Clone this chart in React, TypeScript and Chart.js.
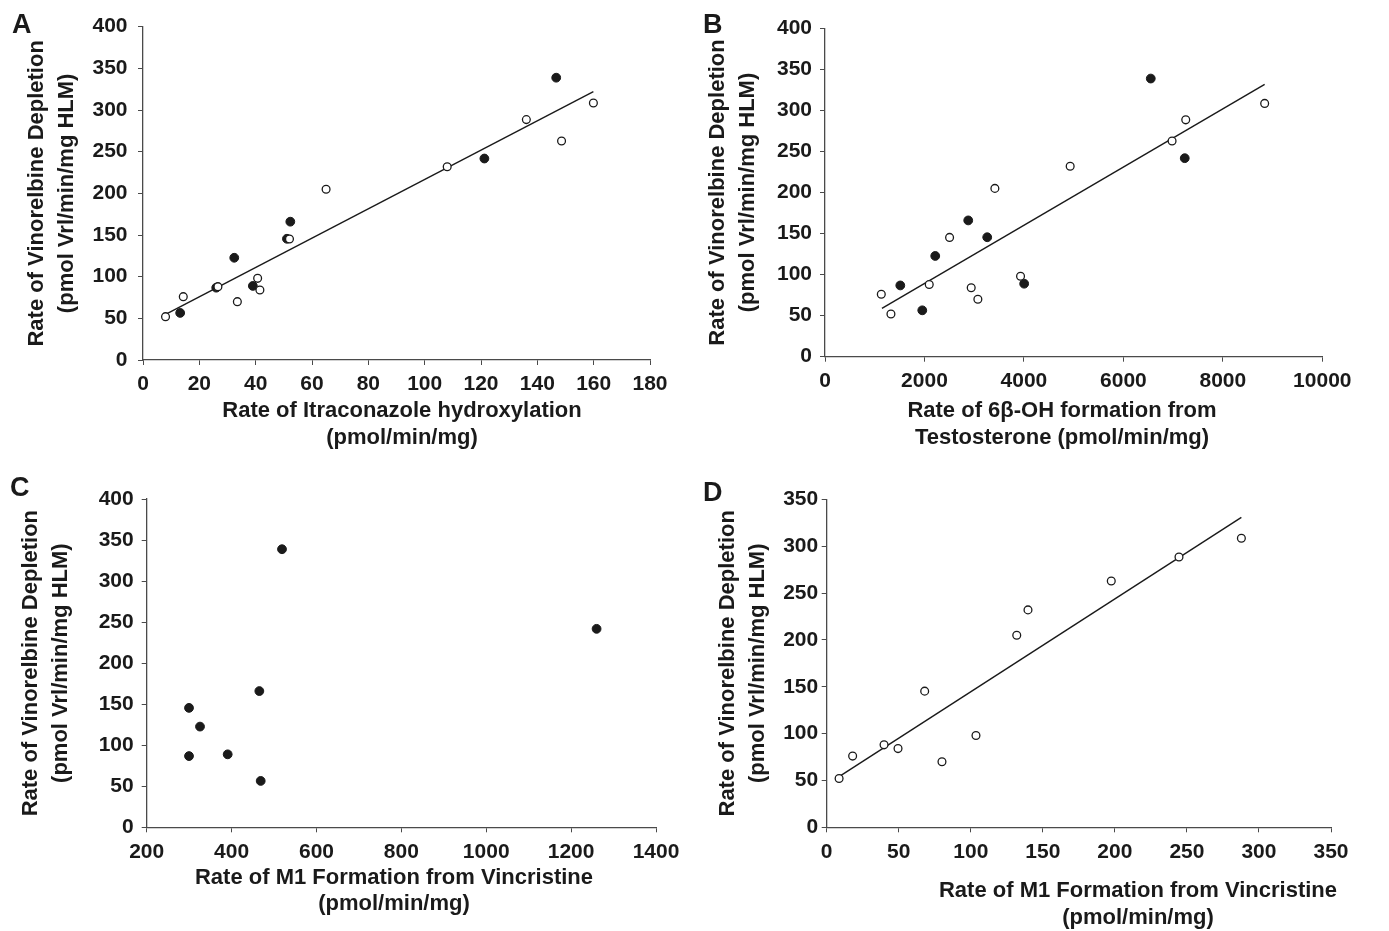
import React, { useEffect, useRef } from "react";
import { Chart, registerables } from "chart.js";

Chart.register(...registerables);

const FONT = "'Liberation Sans', Arial, Helvetica, sans-serif";
const INK = "#1a1a1a";
const AXIS = "#4a4a4a";

// Rate of vinorelbine depletion (pmol/min/mg HLM) for the 12 open-circle and 8 filled-circle samples
const openDepletion = [52, 76, 88, 70, 98, 84, 145.3, 205, 232, 262.8, 288.5, 308.5];
const filledDepletion = [56.5, 86.8, 122.7, 88.9, 145.5, 166, 241.8, 338.8];

// Panel A: itraconazole hydroxylation (same sample order as above)
const itraOpen = [8.0, 14.3, 26.6, 33.5, 40.7, 41.5, 52.0, 65.0, 108.0, 148.6, 136.1, 159.9];
const itraFilled = [13.2, 26.0, 32.4, 39.0, 51.1, 52.3, 121.2, 146.7];
const itraFitX = [8.7, 159.9];
const itraFitY = [56, 322];

// Panel B: 6beta-OH testosterone formation
const testoOpen = [1326, 1132, 2096, 3074, 3932, 2940, 2505, 3416, 4930, 6979, 7254, 8841];
const testoFilled = [1956, 1514, 2217, 4005, 3262, 2880, 7234, 6551];
const testoFitX = [1145, 8841];
const testoFitY = [58.9, 331.7];

// Panel C: M1 formation from vincristine (filled samples)
const vcrFilled = [468.6, 299.7, 325.6, 390.8, 299.7, 465.4, 1260, 518.8];

// Panel D: M1 formation from vincristine (open samples)
const vcrOpen = [8.6, 18.0, 39.8, 80.0, 103.6, 49.5, 68.0, 131.9, 139.7, 197.5, 244.5, 287.8];
const vcrFitX = [8.6, 287.8];
const vcrFitY = [54.1, 330.8];

// Axis ranges [min, max, step]
const itraXRange = [0, 180, 20];
const testoXRange = [0, 10000, 2000];
const vcrCXRange = [200, 1400, 200];
const vcrDXRange = [0, 350, 50];
const depletionRange400 = [0, 400, 50];
const depletionRange350 = [0, 350, 50];

const yTitleLines = ["Rate of Vinorelbine Depletion", "(pmol Vrl/min/mg HLM)"];
const titleA = ["Rate of Itraconazole hydroxylation", "(pmol/min/mg)"];
const titleB = ["Rate of 6β-OH formation from", "Testosterone (pmol/min/mg)"];
const titleCD = ["Rate of M1 Formation from Vincristine", "(pmol/min/mg)"];

const pairs = (xs: number[], ys: number[]) => xs.map((x, i) => ({ x, y: ys[i] }));

const openSet = (xs: number[]) => ({
  data: pairs(xs, openDepletion),
  showLine: false,
  pointRadius: 3.9,
  pointBorderWidth: 1.3,
  pointBackgroundColor: "#ffffff",
  pointBorderColor: INK,
});
const filledSet = (xs: number[]) => ({
  data: pairs(xs, filledDepletion),
  showLine: false,
  pointRadius: 4.4,
  pointBorderWidth: 1,
  pointBackgroundColor: INK,
  pointBorderColor: INK,
});
const fitSet = (xs: number[], ys: number[]) => ({
  data: pairs(xs, ys),
  showLine: true,
  pointRadius: 0,
  borderColor: INK,
  borderWidth: 1.4,
  fill: false,
});

const xTitlePlugin = {
  id: "xTitle",
  afterDraw(chart: any, _args: any, opts: any) {
    const ctx = chart.ctx;
    ctx.save();
    ctx.font = `bold ${opts.size}px ${FONT}`;
    ctx.fillStyle = INK;
    ctx.textAlign = "center";
    ctx.textBaseline = "middle";
    opts.lines.forEach((t: string, i: number) => ctx.fillText(t, opts.x, opts.y + i * opts.gap));
    ctx.restore();
  },
};

type Layout = {
  left: number; top: number; w: number; h: number;
  areaL: number; areaR: number; areaT: number; areaB: number;
  yPad: number; xPad: number; yTitlePad: number;
  xTitleX: number; xTitleY: number; xTitleGap: number;
};

const tickFont = { family: FONT, size: 21, weight: "bold" as const };

function buildConfig(L: Layout, xr: number[], yr: number[], datasets: any[], xTitle: string[]) {
  return {
    type: "scatter" as const,
    data: { datasets },
    options: {
      animation: false,
      responsive: false,
      devicePixelRatio: 1,
      events: [],
      layout: { padding: { left: 0, top: L.areaT, right: L.w - L.areaR, bottom: 0 } },
      plugins: {
        legend: { display: false },
        tooltip: { enabled: false },
        xTitle: { lines: xTitle, x: L.xTitleX, y: L.xTitleY, gap: L.xTitleGap, size: 22 },
      },
      scales: {
        x: {
          type: "linear",
          position: "bottom",
          min: xr[0],
          max: xr[1],
          ticks: {
            stepSize: xr[2],
            padding: L.xPad,
            color: INK,
            font: tickFont,
            maxRotation: 0,
            autoSkip: false,
            callback: (v: any) => String(v),
          },
          grid: { drawOnChartArea: false, drawTicks: true, tickLength: 5, color: AXIS, lineWidth: 1 },
          border: { display: true, color: AXIS, width: 1.3 },
          afterFit: (s: any) => { s.height = L.h - L.areaB; },
        },
        y: {
          type: "linear",
          position: "left",
          min: yr[0],
          max: yr[1],
          ticks: {
            stepSize: yr[2],
            padding: L.yPad,
            color: INK,
            font: tickFont,
            autoSkip: false,
            callback: (v: any) => String(v),
          },
          grid: { drawOnChartArea: false, drawTicks: true, tickLength: 5, color: AXIS, lineWidth: 1 },
          border: { display: true, color: AXIS, width: 1.3 },
          title: {
            display: true,
            text: yTitleLines,
            color: INK,
            font: { family: FONT, size: 22, weight: "bold", lineHeight: "30px" },
            padding: { top: L.yTitlePad, bottom: 0 },
          },
          afterFit: (s: any) => { s.width = L.areaL; },
        },
      },
    },
    plugins: [xTitlePlugin],
  };
}

const layoutA: Layout = { left: 0, top: 0, w: 690, h: 460, areaL: 143, areaR: 650, areaT: 26.7, areaB: 360,
  yPad: 10.5, xPad: 6.5, yTitlePad: 21.7, xTitleX: 402, xTitleY: 411, xTitleGap: 27 };
const layoutB: Layout = { left: 690, top: 0, w: 699, h: 460, areaL: 135, areaR: 632.3, areaT: 28.3, areaB: 356.7,
  yPad: 8, xPad: 6.5, yTitlePad: 13, xTitleX: 372, xTitleY: 411, xTitleGap: 27 };
const layoutC: Layout = { left: 0, top: 460, w: 690, h: 471, areaL: 146.7, areaR: 656, areaT: 39, areaB: 367.3,
  yPad: 8, xPad: 7.5, yTitlePad: 15.5, xTitleX: 394, xTitleY: 418, xTitleGap: 26 };
const layoutD: Layout = { left: 690, top: 460, w: 699, h: 471, areaL: 136.7, areaR: 641, areaT: 39.3, areaB: 367.3,
  yPad: 3.5, xPad: 7.5, yTitlePad: 23, xTitleX: 448, xTitleY: 431, xTitleGap: 27 };

function Panel({ L, make }: { L: Layout; make: () => any }) {
  const ref = useRef<HTMLCanvasElement>(null);
  useEffect(() => {
    const chart = new Chart(ref.current as HTMLCanvasElement, make());
    return () => chart.destroy();
  }, []);
  return (
    <canvas
      ref={ref}
      width={L.w}
      height={L.h}
      style={{ position: "absolute", left: L.left, top: L.top, width: L.w, height: L.h }}
    />
  );
}

const letterStyle = (left: number, top: number): React.CSSProperties => ({
  position: "absolute",
  left,
  top,
  fontFamily: FONT,
  fontWeight: "bold",
  fontSize: 27,
  lineHeight: "27px",
  color: INK,
  zIndex: 2,
});

export default function App() {
  return (
    <div style={{ position: "absolute", left: 0, top: 0, width: 1389, height: 931, background: "#ffffff", overflow: "hidden" }}>
      <Panel L={layoutA} make={() => buildConfig(layoutA, itraXRange, depletionRange400,
        [openSet(itraOpen), filledSet(itraFilled), fitSet(itraFitX, itraFitY)], titleA)} />
      <Panel L={layoutB} make={() => buildConfig(layoutB, testoXRange, depletionRange400,
        [openSet(testoOpen), filledSet(testoFilled), fitSet(testoFitX, testoFitY)], titleB)} />
      <Panel L={layoutC} make={() => buildConfig(layoutC, vcrCXRange, depletionRange400,
        [filledSet(vcrFilled)], titleCD)} />
      <Panel L={layoutD} make={() => buildConfig(layoutD, vcrDXRange, depletionRange350,
        [openSet(vcrOpen), fitSet(vcrFitX, vcrFitY)], titleCD)} />
      <div style={letterStyle(12, 11)}>A</div>
      <div style={letterStyle(703, 11)}>B</div>
      <div style={letterStyle(10, 474)}>C</div>
      <div style={letterStyle(703, 479)}>D</div>
    </div>
  );
}
